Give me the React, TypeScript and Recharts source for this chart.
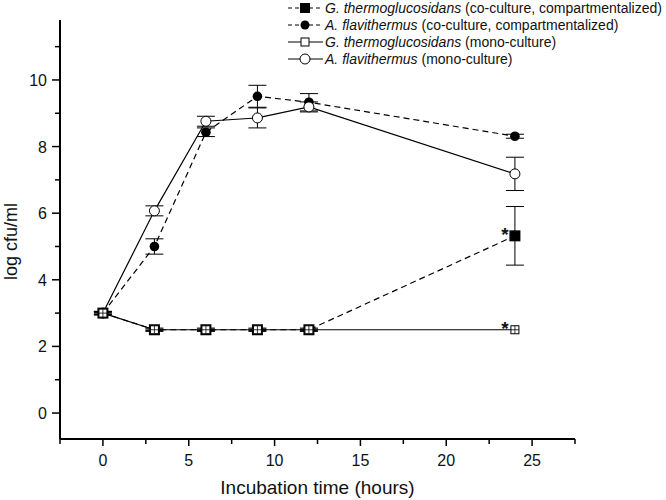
import { LineChart, Line, XAxis, YAxis, ErrorBar } from 'recharts';

// sampling times (hours)
const times = [0, 3, 6, 9, 12, 24];

// log cfu/ml
const gThermoCo = [3.0, 2.5, 2.5, 2.5, 2.5, 5.32];
const gThermoCoErr = [0.05, 0.05, 0.05, 0.05, 0.05, 0.88];
const aFlavCo = [3.0, 5.0, 8.43, 9.51, 9.33, 8.31];
const aFlavCoErr = [0.05, 0.23, 0.13, 0.33, 0.26, 0.06];
const gThermoMono = [3.0, 2.5, 2.5, 2.5, 2.5, 2.5];
const gThermoMonoErr = [0.02, 0.02, 0.02, 0.02, 0.02, 0];
const aFlavMono = [3.0, 6.07, 8.76, 8.86, 9.19, 7.18];
const aFlavMonoErr = [0.05, 0.15, 0.15, 0.3, 0.15, 0.5];

// time points marked with an asterisk on the G. thermoglucosidans series
const sigTimes = [24];

const xTicks = [-2.5, 0, 2.5, 5, 7.5, 10, 12.5, 15, 17.5, 20, 22.5, 25, 27.5];
const yTicks = [0, 1, 2, 3, 4, 5, 6, 7, 8, 9, 10, 11];

const rows = (vals: number[], errs: number[]) =>
  times.map((t, i) => ({ t, y: vals[i], e: errs[i] }));

const FONT = "'Liberation Sans', Arial, sans-serif";

function XTick({ x, y, payload }: any) {
  const v = payload.value;
  const major = v % 5 === 0;
  return (
    <g>
      <line x1={x} x2={x} y1={y} y2={y + (major ? 7 : 5)} stroke="#000" strokeWidth={1.5} />
      {major && (
        <text x={x} y={y + 27} textAnchor="middle" fontSize={16} fontFamily={FONT} fill="#111">
          {v}
        </text>
      )}
    </g>
  );
}

function YTick({ x, y, payload }: any) {
  const v = payload.value;
  const major = v % 2 === 0;
  return (
    <g>
      <line x1={x} x2={x - (major ? 8 : 5)} y1={y} y2={y} stroke="#000" strokeWidth={1.5} />
      {major && (
        <text x={x - 13} y={y + 6} textAnchor="end" fontSize={16} fontFamily={FONT} fill="#111">
          {v}
        </text>
      )}
    </g>
  );
}

function Star({ cx, cy }: { cx: number; cy: number }) {
  return (
    <text x={cx - 10} y={cy + 5} textAnchor="middle" fontSize={19} fontWeight="bold" fontFamily={FONT} fill="#111">
      *
    </text>
  );
}

const filledSquare = (p: any) => (
  <g key={`fs-${p.index}`}>
    <rect x={p.cx - 5.5} y={p.cy - 5.5} width={11} height={11} fill="#000" />
    {sigTimes.includes(p.payload.t) && <Star cx={p.cx} cy={p.cy} />}
  </g>
);

const openSquare = (p: any) => (
  <g key={`os-${p.index}`}>
    <rect x={p.cx - 4} y={p.cy - 4} width={8} height={8} fill="#fff" stroke="#000" strokeWidth={1} />
    <line x1={p.cx - 4} x2={p.cx + 4} y1={p.cy} y2={p.cy} stroke="#000" strokeWidth={0.8} />
    <line x1={p.cx} x2={p.cx} y1={p.cy - 4} y2={p.cy + 4} stroke="#000" strokeWidth={0.8} />
    {sigTimes.includes(p.payload.t) && <Star cx={p.cx} cy={p.cy} />}
  </g>
);

const filledCircle = (p: any) => <circle key={`fc-${p.index}`} cx={p.cx} cy={p.cy} r={4.8} fill="#000" />;
const openCircle = (p: any) => (
  <circle key={`oc-${p.index}`} cx={p.cx} cy={p.cy} r={5} fill="#fff" stroke="#000" strokeWidth={1} />
);

const legendItems = [
  { genus: 'G.', species: 'thermoglucosidans', note: '(co-culture, compartmentalized)', dashed: true, mark: 'fs' },
  { genus: 'A.', species: 'flavithermus', note: '(co-culture, compartmentalized)', dashed: true, mark: 'fc' },
  { genus: 'G.', species: 'thermoglucosidans', note: '(mono-culture)', dashed: false, mark: 'os' },
  { genus: 'A.', species: 'flavithermus', note: '(mono-culture)', dashed: false, mark: 'oc' },
];

function LegendBox() {
  return (
    <div style={{ position: 'absolute', left: 286, top: -1, fontFamily: FONT, fontSize: 14, color: '#111' }}>
      {legendItems.map((it, i) => (
        <div key={i} style={{ display: 'flex', alignItems: 'center', height: 17 }}>
          <svg width={38} height={14} style={{ marginRight: 1 }}>
            <line x1={2} x2={37} y1={7} y2={7} stroke="#000" strokeWidth={1.2} strokeDasharray={it.dashed ? '4 3' : undefined} />
            {it.mark === 'fs' && <rect x={14} y={2} width={10} height={10} fill="#000" />}
            {it.mark === 'fc' && <circle cx={19} cy={7} r={4.5} fill="#000" />}
            {it.mark === 'os' && <rect x={15} y={3} width={8} height={8} fill="#fff" stroke="#000" />}
            {it.mark === 'oc' && <circle cx={19} cy={7} r={5} fill="#fff" stroke="#000" />}
          </svg>
          <span>
            <i>{it.genus} {it.species}</i> {it.note}
          </span>
        </div>
      ))}
    </div>
  );
}

function YLabel({ viewBox }: any) {
  const x = viewBox.x + 17;
  const y = viewBox.y + viewBox.height / 2 + 12;
  return (
    <text x={x} y={y} transform={`rotate(-90, ${x}, ${y})`} textAnchor="middle" fontSize={18} fontFamily={FONT} fill="#111">
      log cfu/ml
    </text>
  );
}

export default function App() {
  return (
    <div style={{ position: 'absolute', left: 0, top: 0, width: 666, height: 500, background: '#fff' }}>
      <LineChart width={666} height={500} margin={{ top: 20, right: 91, left: 0, bottom: 0 }}>
        <XAxis
          type="number"
          dataKey="t"
          domain={[-2.5, 27.5]}
          ticks={xTicks}
          interval={0}
          allowDataOverflow
          height={61}
          tickSize={0}
          tickMargin={0}
          tickLine={false}
          tick={(p: any) => <XTick {...p} />}
          axisLine={{ stroke: '#000', strokeWidth: 2 }}
          label={{ value: 'Incubation time (hours)', position: 'insideBottom', offset: 6, fontSize: 19, fontFamily: FONT, fill: '#111' }}
        />
        <YAxis
          type="number"
          domain={[-0.78, 11.8]}
          ticks={yTicks}
          interval={0}
          allowDataOverflow
          width={60}
          tickSize={0}
          tickMargin={0}
          tickLine={false}
          tick={(p: any) => <YTick {...p} />}
          axisLine={{ stroke: '#000', strokeWidth: 2 }}
          label={<YLabel />}
        />
        <Line data={rows(aFlavCo, aFlavCoErr)} dataKey="y" stroke="#000" strokeWidth={1.2} strokeDasharray="6 4" dot={filledCircle} isAnimationActive={false}>
          <ErrorBar dataKey="e" width={9} stroke="#000" strokeWidth={1} direction="y" />
        </Line>
        <Line data={rows(aFlavMono, aFlavMonoErr)} dataKey="y" stroke="#000" strokeWidth={1.2} dot={openCircle} isAnimationActive={false}>
          <ErrorBar dataKey="e" width={9} stroke="#000" strokeWidth={1} direction="y" />
        </Line>
        <Line data={rows(gThermoCo, gThermoCoErr)} dataKey="y" stroke="#000" strokeWidth={1.2} strokeDasharray="6 4" dot={filledSquare} isAnimationActive={false}>
          <ErrorBar dataKey="e" width={9} stroke="#000" strokeWidth={1} direction="y" />
        </Line>
        <Line data={rows(gThermoMono, gThermoMonoErr)} dataKey="y" stroke="#000" strokeWidth={1.2} dot={openSquare} isAnimationActive={false}>
          <ErrorBar dataKey="e" width={9} stroke="#000" strokeWidth={1} direction="y" />
        </Line>
      </LineChart>
      <LegendBox />
    </div>
  );
}
